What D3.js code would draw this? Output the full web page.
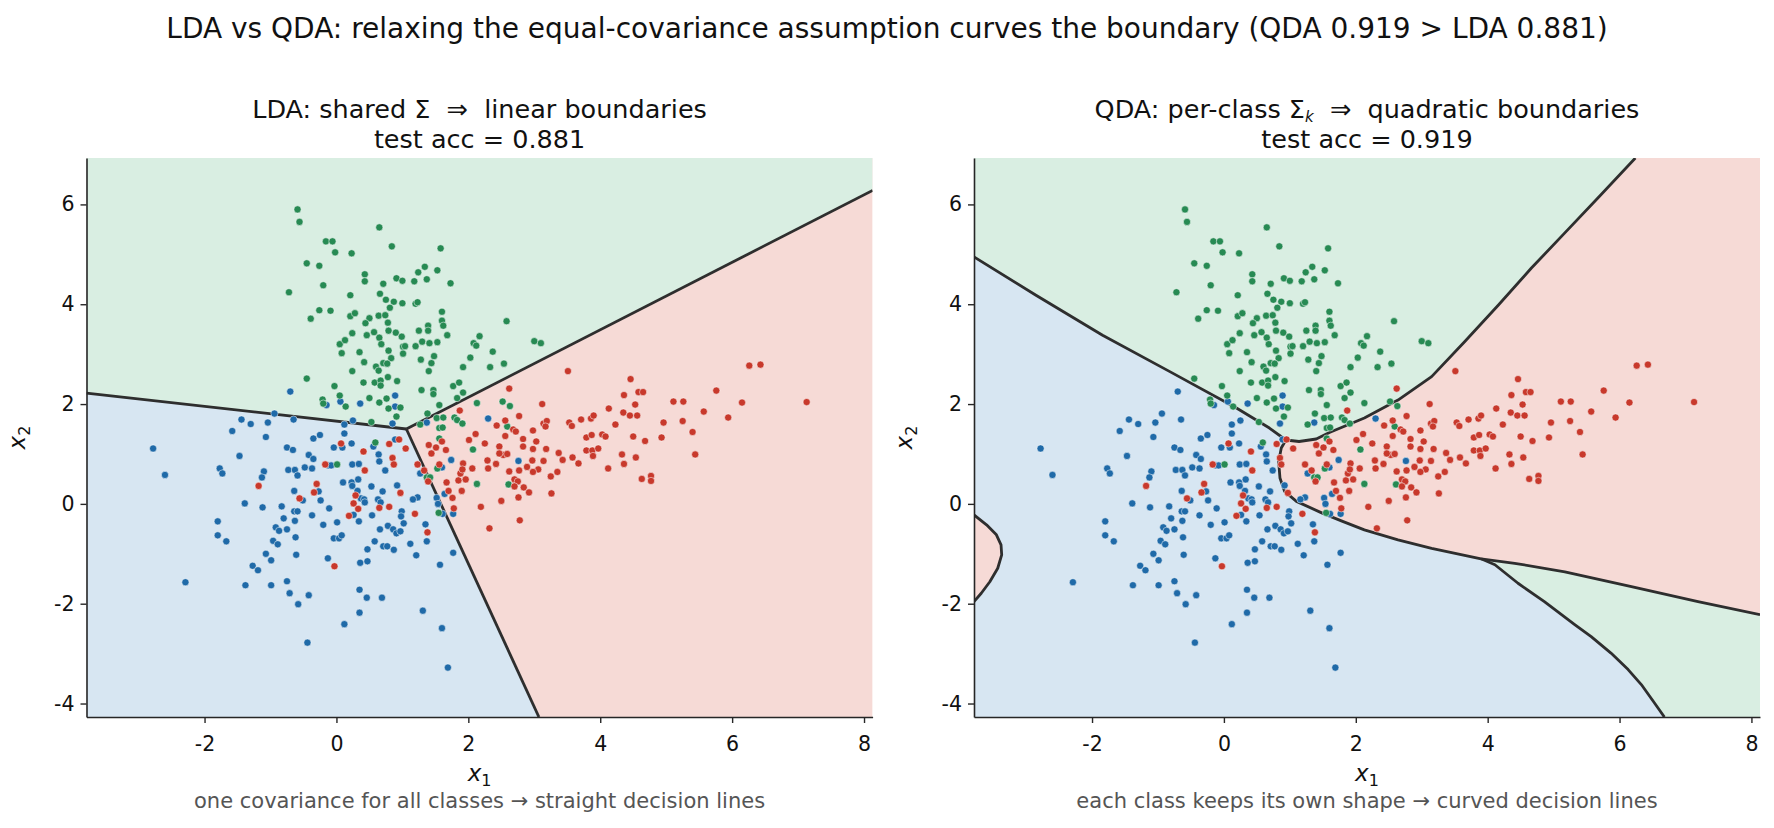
<!DOCTYPE html>
<html>
<head>
<meta charset="utf-8">
<script src="https://cdn.jsdelivr.net/npm/d3@7"></script>
<style>
  body { margin: 0; background: #fff; }
  svg text { font-family: "DejaVu Sans", sans-serif; fill: #111; white-space: pre; }
</style>
</head>
<body>
<div id="chart"></div>
<script>
// ---------- data ----------
const xDomain = [-3.79, 8.13];
const yDomain = [-4.27, 6.93];
const xTicks = [-2, 0, 2, 4, 6, 8];
const yTicks = [-4, -2, 0, 2, 4, 6];

const greenPts = [
  [-0.59,5.90],[-0.56,5.65],[0.65,5.54],[-0.16,5.26],[-0.06,5.26],[-0.02,5.04],[0.23,5.02],[0.84,5.16],[1.58,5.12],
  [-0.45,4.82],[-0.26,4.77],[1.34,4.75],[1.24,4.64],[1.53,4.68],[0.43,4.60],[0.43,4.46],[0.91,4.52],[1.00,4.47],
  [1.18,4.46],[1.37,4.50],[0.71,4.41],[1.73,4.42],[-0.20,4.38],[-0.72,4.24],[0.21,4.18],[0.66,4.21],[0.75,4.09],
  [0.87,4.05],[1.00,4.02],[1.20,4.01],[1.23,4.04],[0.81,3.93],[-0.26,3.88],[-0.09,3.87],[-0.39,3.71],[0.21,3.76],
  [0.28,3.82],[0.50,3.72],[0.64,3.77],[0.74,3.78],[0.44,3.62],[0.78,3.63],[1.60,3.85],[1.60,3.67],[1.62,3.57],
  [1.39,3.57],[1.39,3.47],[1.25,3.47],[0.79,3.47],[0.90,3.43],[0.57,3.44],[0.46,3.38],[0.24,3.42],[0.99,3.35],
  [0.65,3.33],[1.68,3.38],[0.05,3.20],[0.13,3.28],[0.68,3.20],[1.01,3.15],[1.04,3.16],[1.20,3.16],[1.30,3.25],
  [1.41,3.22],[1.53,3.24],[2.17,3.36],[2.08,3.22],[2.12,3.17],[0.08,3.02],[0.35,3.04],[0.79,3.07],[1.01,3.01],
  [0.83,2.92],[1.48,2.96],[2.03,2.93],[2.37,3.05],[0.42,2.84],[0.60,2.75],[0.71,2.82],[0.77,2.81],[1.28,2.89],
  [1.44,2.82],[0.64,2.67],[0.24,2.66],[1.40,2.66],[1.92,2.74],[2.33,2.74],[-0.45,2.51],[0.41,2.43],[0.58,2.43],
  [0.67,2.47],[0.67,2.37],[0.78,2.54],[0.92,2.46],[-0.03,2.36],[1.77,2.36],[1.86,2.43],[1.29,2.28],[1.47,2.28],
  [1.47,2.20],[1.92,2.23],[0.05,2.17],[-0.21,2.09],[-0.20,2.01],[0.14,1.95],[0.50,2.12],[0.65,2.03],[0.76,2.11],
  [0.79,1.91],[0.97,1.93],[1.83,2.12],[1.56,1.98],[2.13,2.02],[1.38,1.81],[0.91,1.75],[1.52,1.72],[1.62,1.73],
  [1.79,1.73],[1.83,1.68],[1.91,1.61],[1.27,1.59],[0.53,1.64],[1.56,1.52],[1.61,1.53],[1.56,1.31],
  [2.58,3.66],[3.00,3.26],[3.10,3.22],[2.54,2.81],[2.52,2.05],[2.63,1.96],[2.59,1.55],
  [0.59,1.23],[0.01,0.79],[1.37,0.53],[1.42,0.53],[1.53,0.71],[1.55,-0.18],[2.07,1.09],[2.13,0.40],[2.61,0.39]
];

const bluePts = [
  [-0.70,2.25],[-0.15,1.98],[0.06,2.05],[0.36,2.01],[0.89,2.17],[0.89,1.95],[-0.94,1.81],[-1.44,1.69],[-1.30,1.60],
  [-1.04,1.63],[-0.65,1.69],[-1.58,1.46],[-1.07,1.34],[-0.35,1.31],[-0.25,1.38],[0.12,1.59],[0.25,1.67],[0.12,1.41],
  [0.85,1.61],[1.37,1.63],[2.30,1.71],[-2.78,1.11],[-2.60,0.58],[-0.75,1.13],[-0.66,1.08],[-1.47,0.96],[-0.42,0.98],
  [-0.35,0.90],[-0.04,1.13],[0.09,1.13],[0.23,1.21],[0.56,1.15],[0.64,0.99],[0.65,0.85],[0.24,0.79],[0.34,0.80],
  [0.74,0.67],[-1.77,0.71],[-1.73,0.61],[-1.10,0.65],[-1.13,0.53],[-0.73,0.68],[-0.63,0.68],[-0.59,0.57],[-0.48,0.73],
  [-0.37,0.71],[-0.12,0.77],[-0.08,0.77],[0.10,0.43],[0.23,0.43],[0.24,0.36],[0.33,0.49],[0.32,0.26],[0.53,0.35],
  [0.70,0.25],[0.92,0.37],[1.23,0.13],[1.16,0.09],[-0.64,0.26],[-0.27,0.25],[-0.51,0.07],[-0.24,0.07],[-1.39,0.01],
  [-1.12,-0.07],[-0.83,-0.05],[-0.64,-0.15],[-0.59,-0.15],[-0.37,-0.23],[-0.11,-0.09],[0.37,0.11],[0.42,0.09],
  [0.43,0.03],[0.63,0.09],[0.67,0.03],[0.99,-0.15],[0.98,-0.25],[0.26,-0.22],[0.54,-0.23],[0.34,-0.35],[0.01,-0.37],
  [-0.20,-0.42],[-0.63,-0.34],[-0.80,-0.29],[-1.80,-0.35],[-1.80,-0.63],[-1.67,-0.75],[-0.92,-0.47],[-0.87,-0.54],
  [-0.75,-0.51],[-0.62,-0.67],[-0.96,-0.74],[-0.89,-0.81],[-0.61,-1.02],[-1.07,-1.00],[-0.99,-1.13],[-1.27,-1.24],
  [-1.19,-1.33],[-0.04,-0.69],[0.04,-0.69],[0.08,-0.63],[-0.13,-1.09],[0.36,-1.18],[0.47,-1.15],[0.47,-0.91],
  [0.58,-0.75],[0.66,-0.51],[0.78,-0.44],[0.86,-0.51],[0.91,-0.59],[0.97,-0.55],[1.02,-0.39],[0.71,-0.85],[0.77,-0.85],
  [0.87,-0.92],[1.12,-0.80],[1.21,-1.03],[1.35,-0.41],[1.37,-0.75],[1.52,0.12],[1.54,0.00],[1.61,-0.20],[1.77,-0.20],
  [1.64,0.20],[1.74,0.88],[1.27,0.61],[1.60,0.73],[1.77,-0.98],[1.57,-1.22],[1.31,-2.14],[1.60,-2.49],[1.69,-3.28],
  [-2.29,-1.57],[-1.38,-1.63],[-0.99,-1.63],[-0.75,-1.55],[-0.71,-1.79],[-0.58,-2.01],[-0.42,-1.83],[0.35,-1.72],
  [0.46,-1.88],[0.69,-1.88],[0.35,-2.18],[0.12,-2.41],[-0.44,-2.78],[0.89,1.29],[2.76,0.86]
];

const redPts = [
  [1.87,1.87],[2.43,1.57],[2.11,1.40],[3.51,2.66],[4.46,2.50],[2.62,2.31],[4.36,2.18],[4.58,2.24],[4.65,2.24],
  [3.12,2.00],[4.53,1.99],[5.11,2.05],[5.26,2.05],[5.76,2.27],[6.26,2.77],[6.43,2.79],[7.13,2.04],[6.15,2.03],
  [4.13,1.91],[5.57,1.85],[5.94,1.73],[2.77,1.76],[2.56,1.67],[2.68,1.49],[2.72,1.45],[2.98,1.47],[3.14,1.61],
  [3.19,1.66],[3.17,1.55],[3.53,1.63],[3.57,1.56],[3.71,1.69],[3.86,1.71],[3.90,1.77],[4.35,1.83],[4.45,1.77],
  [4.56,1.77],[4.23,1.59],[4.96,1.63],[5.25,1.66],[5.40,1.44],[4.50,1.35],[4.93,1.33],[2.56,1.36],[2.83,1.30],
  [3.79,1.33],[3.87,1.38],[4.03,1.39],[4.08,1.35],[2.47,1.15],[2.83,1.15],[2.98,1.10],[3.18,1.10],[3.03,1.25],
  [3.37,1.02],[3.58,0.93],[3.43,0.88],[3.67,0.81],[3.14,0.86],[2.97,0.87],[2.89,0.74],[3.06,0.69],[2.98,0.64],
  [2.77,0.67],[2.62,0.65],[2.42,0.80],[2.53,0.98],[2.47,1.01],[2.59,1.00],[2.70,0.49],[2.75,0.45],[2.70,0.35],
  [2.84,0.33],[2.92,0.23],[2.76,0.13],[3.25,0.55],[3.35,0.64],[3.26,0.21],[2.50,0.06],[2.78,-0.33],[3.79,1.07],
  [3.88,1.07],[3.97,1.11],[3.89,0.96],[4.33,0.99],[4.54,0.93],[4.36,0.80],[4.12,0.71],[4.63,0.50],[4.77,0.56],
  [4.77,0.46],[5.44,0.99],[4.68,1.26],[0.07,1.21],[0.41,1.05],[0.80,1.20],[0.95,1.29],[1.05,1.11],[0.85,0.92],
  [0.87,0.79],[0.43,0.67],[-0.17,0.79],[-0.30,0.40],[-0.34,0.23],[-0.56,0.11],[0.29,0.17],[0.26,0.01],[0.33,-0.10],
  [0.19,-0.24],[0.65,-0.08],[0.80,-0.06],[0.97,0.22],[1.19,-0.20],[1.38,-0.57],[-0.03,-1.25],[-1.18,0.36],
  [1.23,0.79],[1.33,0.67],[1.40,1.18],[1.44,1.01],[1.51,1.13],[1.60,1.25],[1.66,1.08],[1.39,0.45],[1.67,0.43],
  [1.70,0.26],[1.76,0.12],[1.78,-0.09],[1.85,0.47],[1.88,0.61],[1.92,0.81],[1.91,0.69],[1.96,0.49],[1.90,0.26],
  [2.01,1.28],[2.25,1.21],[2.06,0.71],[2.29,0.87],[2.30,0.71],[2.19,-0.06],[2.32,-0.49],[1.56,0.79]
];

// LDA decision boundaries (straight segments meeting at one point)
const ldaGreenBlue = [[-3.79,2.22],[1.06,1.50]];
const ldaGreenRed  = [[1.06,1.50],[8.13,6.28]];
const ldaBlueRed   = [[1.06,1.50],[3.07,-4.27]];

// QDA decision boundaries (curves)
const qdaGreenBlue = [[-3.79,4.95],[-2.85,4.18],[-1.84,3.38],[-0.82,2.65],[0.19,1.92],[0.69,1.52],[0.94,1.28]];
const qdaGreenRed  = [[0.94,1.28],[1.14,1.25],[1.40,1.30],[1.60,1.43],[2.13,1.72],[2.64,2.08],[3.15,2.55],
                      [3.65,3.25],[4.16,3.98],[4.66,4.72],[5.17,5.43],[5.70,6.17],[6.24,6.93]];
const qdaBlueRed   = [[0.94,1.28],[0.87,1.12],[0.83,0.85],[0.85,0.52],[0.92,0.25],[1.10,0.05],[1.50,-0.19],
                      [1.80,-0.35],[2.13,-0.52],[2.64,-0.72],[3.15,-0.89],[3.90,-1.10]];
const qdaRedGreen  = [[3.90,-1.10],[4.41,-1.19],[5.17,-1.36],[6.18,-1.66],[7.19,-1.96],[8.13,-2.22]];
const qdaBlueGreen = [[3.90,-1.10],[4.11,-1.22],[4.46,-1.59],[4.86,-1.96],[5.32,-2.42],[5.57,-2.66],[5.87,-2.99],
                      [6.13,-3.32],[6.33,-3.62],[6.53,-3.99],[6.68,-4.27]];
const qdaRedBlob   = [[-3.79,-0.22],[-3.60,-0.42],[-3.45,-0.62],[-3.38,-0.82],[-3.37,-1.02],[-3.43,-1.29],
                      [-3.55,-1.56],[-3.68,-1.79],[-3.79,-1.96]];

const accuracies = { lda: "0.881", qda: "0.919" };

// ---------- styling ----------
const dotColor = { blue: "#1f6aa8", green: "#278a53", red: "#c8392c" };
const fillColor = { blue: "#d7e6f2", green: "#d9eee2", red: "#f6dad6" };
const lineColor = "#2e2e2e";

const W = 1774, H = 828;
const plotTop = 158, plotBottom = 717;

const svg = d3.select("#chart").append("svg")
  .attr("width", W).attr("height", H)
  .attr("viewBox", `0 0 ${W} ${H}`);

svg.append("text")
  .attr("x", W / 2).attr("y", 38)
  .attr("text-anchor", "middle")
  .style("font-size", "28px")
  .text(`LDA vs QDA: relaxing the equal-covariance assumption curves the boundary (QDA ${accuracies.qda} > LDA ${accuracies.lda})`);

const [x0, x1] = xDomain, [y0, y1] = yDomain;
const corners = [[x0, y0], [x1, y0], [x1, y1], [x0, y1]];
const rev = a => a.slice().reverse();

const panels = [
  {
    left: 86.5, right: 872.6, kind: "lda",
    head: [{ t: "LDA: shared Σ  ⇒  linear boundaries" }],
    note: "one covariance for all classes → straight decision lines",
    regions: [
      { cls: "red", pts: corners },
      { cls: "blue", pts: [[x0, y0], ...ldaGreenBlue, ...ldaBlueRed.slice(1)] },
      { cls: "green", pts: [[x0, y1], ...ldaGreenBlue, ...ldaGreenRed.slice(1), [x1, y1]] }
    ],
    lines: [ldaGreenBlue, ldaGreenRed, ldaBlueRed]
  },
  {
    left: 974, right: 1760, kind: "qda",
    head: [{ t: "QDA: per-class Σ" }, { t: "k", sub: true }, { t: "  ⇒  quadratic boundaries" }],
    note: "each class keeps its own shape → curved decision lines",
    regions: [
      { cls: "blue", pts: corners },
      { cls: "green", pts: [[x0, y1], ...qdaGreenBlue, ...qdaGreenRed.slice(1)] },
      { cls: "red", pts: [...qdaGreenRed, [x1, y1], ...rev(qdaRedGreen), ...rev(qdaBlueRed)] },
      { cls: "green", pts: [...qdaRedGreen, [x1, y0], ...rev(qdaBlueGreen)] },
      { cls: "red", pts: qdaRedBlob }
    ],
    lines: [qdaGreenBlue, qdaGreenRed, qdaBlueRed, qdaRedGreen, qdaBlueGreen, qdaRedBlob]
  }
];

panels.forEach((p, i) => {
  const x = d3.scaleLinear().domain(xDomain).range([p.left, p.right]);
  const y = d3.scaleLinear().domain(yDomain).range([plotBottom, plotTop]);
  const line = d3.line().x(d => x(d[0])).y(d => y(d[1]));
  const cx = (p.left + p.right) / 2;

  svg.append("clipPath").attr("id", "clip" + i)
    .append("rect")
    .attr("x", p.left).attr("y", plotTop)
    .attr("width", p.right - p.left).attr("height", plotBottom - plotTop);

  const g = svg.append("g").attr("clip-path", `url(#clip${i})`);

  g.selectAll("path.region")
    .data(p.regions)
    .join("path")
    .attr("class", "region")
    .attr("d", r => line(r.pts) + "Z")
    .attr("fill", r => fillColor[r.cls]);

  g.selectAll("path.boundary")
    .data(p.lines)
    .join("path")
    .attr("class", "boundary")
    .attr("d", line)
    .attr("fill", "none")
    .attr("stroke", lineColor)
    .attr("stroke-width", 2.8)
    .attr("stroke-linejoin", "round");

  const pts = [
    ...bluePts.map(d => ({ cls: "blue", d })),
    ...greenPts.map(d => ({ cls: "green", d })),
    ...redPts.map(d => ({ cls: "red", d }))
  ];
  g.selectAll("circle")
    .data(pts)
    .join("circle")
    .attr("cx", o => x(o.d[0]))
    .attr("cy", o => y(o.d[1]))
    .attr("r", 3.6)
    .attr("fill", o => dotColor[o.cls])
    .attr("stroke", "#fff")
    .attr("stroke-width", 0.5);

  // axes (left + bottom spines only)
  const xAxis = svg.append("g")
    .attr("transform", `translate(0,${plotBottom})`)
    .call(d3.axisBottom(x).tickValues(xTicks).tickFormat(d => String(d))
      .tickSize(6).tickSizeOuter(0).tickPadding(13));
  const yAxis = svg.append("g")
    .attr("transform", `translate(${p.left},0)`)
    .call(d3.axisLeft(y).tickValues(yTicks).tickFormat(d => String(d))
      .tickSize(6).tickSizeOuter(0).tickPadding(6));
  [xAxis, yAxis].forEach(a => {
    a.select(".domain").attr("stroke", "#262626").attr("stroke-width", 1.6);
    a.selectAll(".tick line").attr("stroke", "#262626").attr("stroke-width", 1.4);
    a.selectAll(".tick text")
      .style("font-family", '"DejaVu Sans", sans-serif')
      .style("font-size", "20.5px")
      .attr("fill", "#111");
  });

  // panel title (two lines)
  const h1 = svg.append("text")
    .attr("x", cx).attr("y", 118)
    .attr("text-anchor", "middle")
    .style("font-size", "25.5px");
  p.head.forEach((s, k) => {
    if (s.sub) {
      h1.append("tspan").attr("dy", 3.5).style("font-size", "15px").style("font-style", "italic").text(s.t);
    } else {
      const t = h1.append("tspan").text(s.t);
      if (k > 0) t.attr("dy", -3.5);
    }
  });
  svg.append("text")
    .attr("x", cx).attr("y", 148)
    .attr("text-anchor", "middle")
    .style("font-size", "25.5px")
    .text(`test acc = ${accuracies[p.kind]}`);

  // axis labels
  const xl = svg.append("text")
    .attr("x", cx).attr("y", 781)
    .attr("text-anchor", "middle")
    .style("font-size", "23px");
  xl.append("tspan").style("font-style", "italic").text("x");
  xl.append("tspan").attr("dy", 5).style("font-size", "16px").text("1");

  const yl = svg.append("text")
    .attr("transform", `translate(${p.left - 62},${(plotTop + plotBottom) / 2}) rotate(-90)`)
    .attr("text-anchor", "middle")
    .style("font-size", "23px");
  yl.append("tspan").style("font-style", "italic").text("x");
  yl.append("tspan").attr("dy", 5).style("font-size", "16px").text("2");

  svg.append("text")
    .attr("x", cx).attr("y", 808)
    .attr("text-anchor", "middle")
    .style("font-size", "21px")
    .style("fill", "#555")
    .text(p.note);
});
</script>
</body>
</html>
